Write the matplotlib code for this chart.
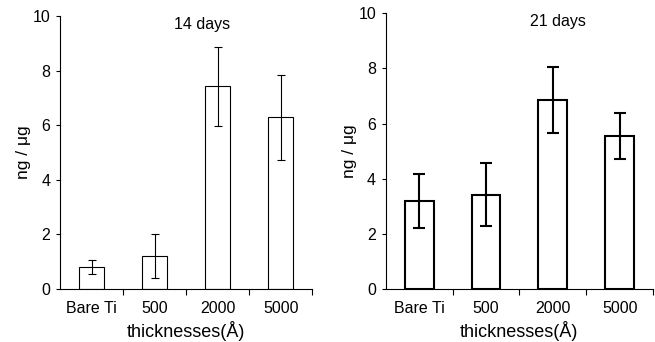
import matplotlib.pyplot as plt
import numpy as np

plt.rcParams['font.family'] = ['Liberation Sans', 'Noto Sans CJK JP', 'DejaVu Sans']

categories = ['Bare Ti', '500', '2000', '5000']
days14 = [0.81, 1.22, 7.42, 6.29]
err14 = [0.26, 0.80, 1.45, 1.56]
days21 = [3.20, 3.42, 6.85, 5.54]
err21 = [0.97, 1.14, 1.20, 0.84]

fig = plt.figure(figsize=(6.55, 3.42), dpi=100)
ax1 = fig.add_axes([0.0916, 0.155, 0.385, 0.798])
ax2 = fig.add_axes([0.589, 0.155, 0.408, 0.806])

x = np.arange(len(categories))

def draw(ax, vals, errs, title, tx, lw, cap, width):
    ax.bar(x, vals, width=width, color='white', edgecolor='black', linewidth=lw)
    ax.errorbar(x, vals, yerr=errs, fmt='none', ecolor='black', elinewidth=lw,
                capsize=cap, capthick=lw)
    ax.set_xlim(-0.5, 3.5)
    ax.set_ylim(0, 10)
    ax.set_yticks([0, 2, 4, 6, 8, 10])
    ax.set_xticks(x)
    ax.set_xticklabels(categories, fontsize=11.5)
    ax.set_xticks([0.5, 1.5, 2.5, 3.5], minor=True)
    ax.tick_params(axis='x', which='major', length=0, pad=9)
    ax.tick_params(axis='x', which='minor', length=4, width=0.8, direction='out')
    ax.tick_params(axis='y', length=3, width=0.8, labelsize=11.5, pad=4)
    for s in ['top', 'right']:
        ax.spines[s].set_visible(False)
    for s in ['left', 'bottom']:
        ax.spines[s].set_linewidth(0.8)
    ax.set_ylabel('ng / μg', fontsize=12.5, labelpad=1)
    ax.set_xlabel('thicknesses(Å)', fontsize=13, labelpad=3)
    ax.text(tx, 9.7, title, ha='center', va='center', fontsize=11.5)

draw(ax1, days14, err14, '14 days', 1.75, 0.8, 3, 0.4)
draw(ax2, days21, err21, '21 days', 2.07, 1.5, 4.5, 0.43)

fig.savefig('out.png', dpi=100)
